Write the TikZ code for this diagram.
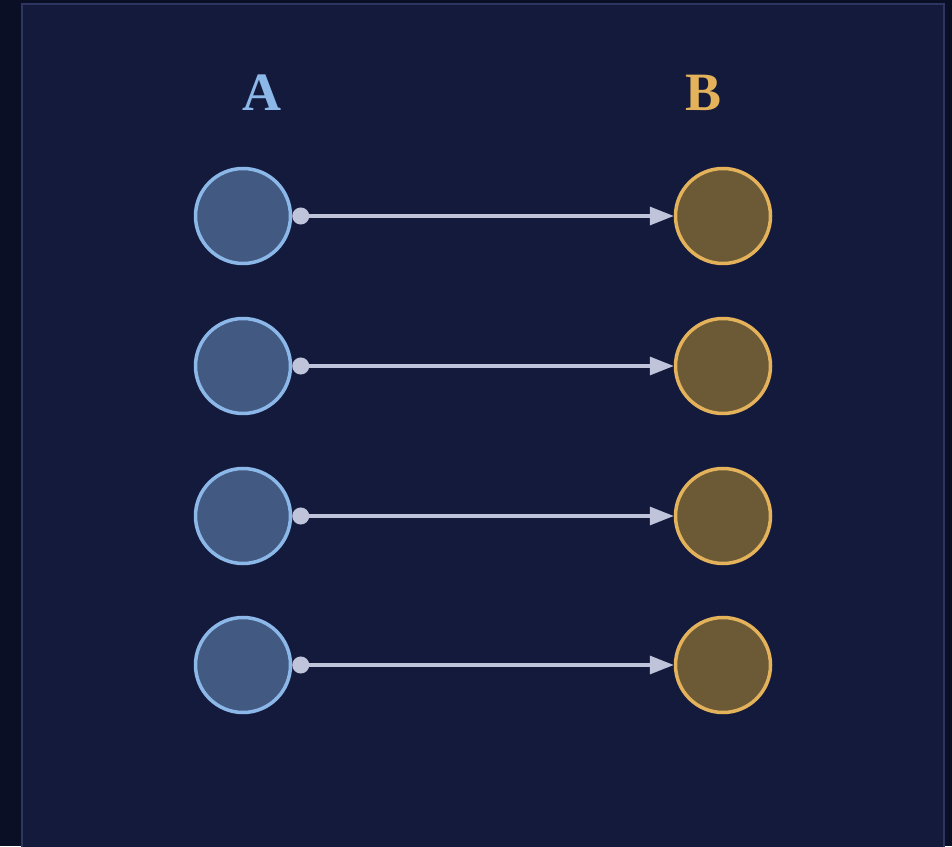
\documentclass[tikz,border=0pt]{standalone}
\usepackage{fontspec}
\setmainfont{Liberation Serif}
\usepackage{xcolor}
\definecolor{outerbg}{RGB}{11, 15, 38}
\definecolor{panelbg}{RGB}{20, 26, 60}
\definecolor{panelrim}{RGB}{46, 53, 96}
\definecolor{afill}{RGB}{66, 90, 130}
\definecolor{aline}{RGB}{139, 184, 232}
\definecolor{bfill}{RGB}{107, 90, 53}
\definecolor{bline}{RGB}{227, 178, 90}
\definecolor{link}{RGB}{192, 196, 218}
\usetikzlibrary{arrows.meta}

\begin{document}
\begin{tikzpicture}[x=1pt,y=1pt,
  anode/.style={circle,minimum size=95pt,inner sep=0pt,
    fill=afill,draw=aline,line width=3.5pt},
  bnode/.style={circle,minimum size=95pt,inner sep=0pt,
    fill=bfill,draw=bline,line width=3.5pt},
  maps/.style={draw=link,line width=3.2pt,
    {Circle[length=17pt,fill=link]}-{Triangle[length=24pt,width=18pt,fill=link]}},
  head/.style={anchor=base,font=\fontsize{54}{54}\bfseries}]
\useasboundingbox
  (0,0) rectangle (952,846);
\fill [outerbg] (0,0) rectangle (952,846);
\filldraw [fill=panelbg,draw=panelrim,line width=2pt]
  (22,-4) rectangle (944,842);

\node [head,text=aline] (headA) at (262,735) {A};
\node [head,text=bline] (headB) at (703,735) {B};

\node [anode] (a1) at (243,630) {};
\node [anode] (a2) at (243,480) {};
\node [anode] (a3) at (243,330) {};
\node [anode] (a4) at (243,181) {};

\node [bnode] (b1) at (723,630) {};
\node [bnode] (b2) at (723,480) {};
\node [bnode] (b3) at (723,330) {};
\node [bnode] (b4) at (723,181) {};

\draw [maps] (a1.east) -- (b1.west);
\draw [maps] (a2.east) -- (b2.west);
\draw [maps] (a3.east) -- (b3.west);
\draw [maps] (a4.east) -- (b4.west);
\end{tikzpicture}
\end{document}
